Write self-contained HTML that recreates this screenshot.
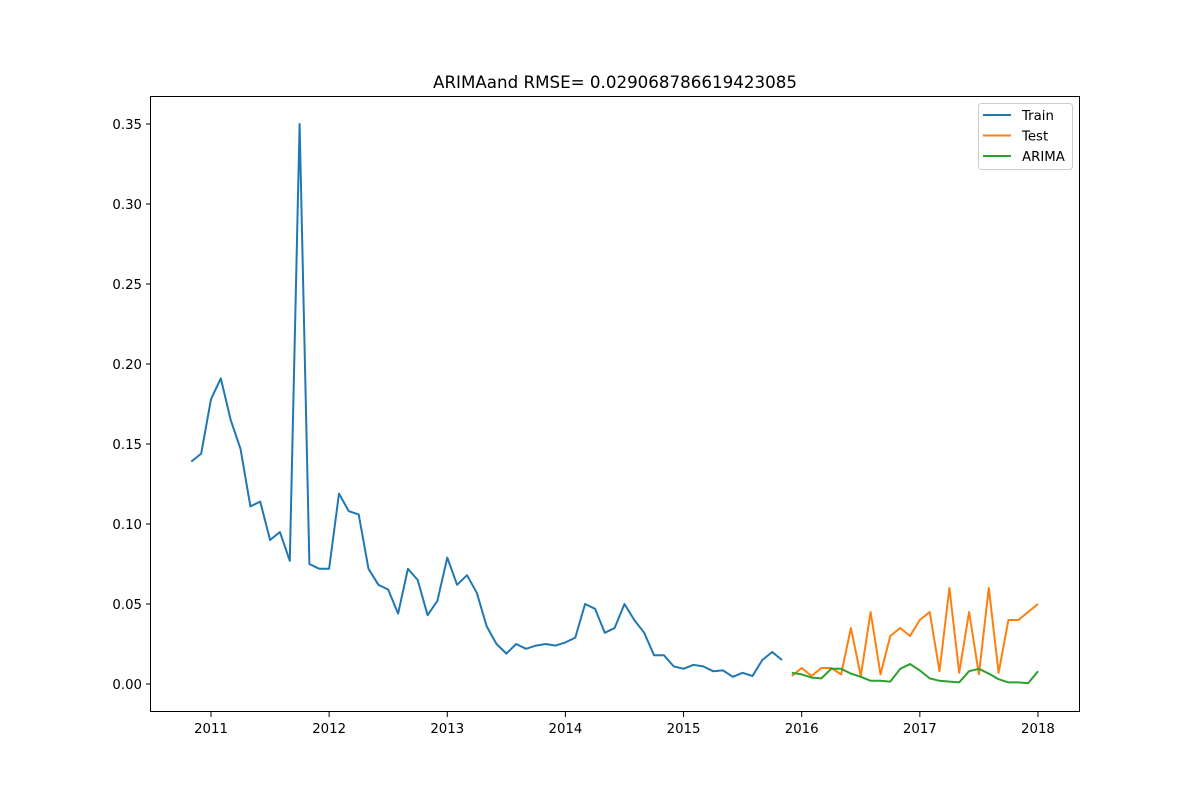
<!DOCTYPE html>
<html><head><meta charset="utf-8"><style>
body{margin:0;background:#fff;}
svg text{font-family:"DejaVu Sans","Liberation Sans",sans-serif;}
</style></head><body>
<svg id="chart" width="1200" height="800" xmlns="http://www.w3.org/2000/svg"></svg>
<script>
const trainValues=[0.139,0.144,0.178,0.191,0.165,0.147,0.111,0.114,0.090,0.095,0.077,0.350,0.075,0.072,0.072,0.119,0.108,0.106,0.072,0.062,0.059,0.044,0.072,0.065,0.043,0.052,0.079,0.062,0.068,0.057,0.036,0.025,0.019,0.025,0.022,0.024,0.025,0.024,0.026,0.029,0.050,0.047,0.032,0.035,0.050,0.040,0.032,0.018,0.018,0.011,0.0095,0.012,0.011,0.008,0.0085,0.0045,0.007,0.005,0.015,0.020,0.015];
const trainStart=2010+10/12;
const testValues=[0.005,0.010,0.005,0.010,0.010,0.006,0.035,0.005,0.045,0.006,0.030,0.035,0.030,0.040,0.045,0.008,0.060,0.007,0.045,0.006,0.060,0.007,0.040,0.040,0.045,0.050];
const arimaValues=[0.007,0.006,0.004,0.0035,0.0095,0.0095,0.0065,0.0045,0.002,0.002,0.0015,0.0095,0.0125,0.0085,0.0035,0.002,0.0015,0.001,0.008,0.0095,0.0065,0.003,0.001,0.001,0.0005,0.008];
const testStart=2015+11/12;
const xTicks=[2011,2012,2013,2014,2015,2016,2017,2018];
const yTicks=[0,0.05,0.10,0.15,0.20,0.25,0.30,0.35];

const NS="http://www.w3.org/2000/svg";
const svg=document.getElementById('chart');
const X=v=>211+(v-2011)*118.14;
const Y=v=>684-v*1600;
function mk(t,a,parent){const e=document.createElementNS(NS,t);for(const k in a)e.setAttribute(k,a[k]);(parent||svg).appendChild(e);return e;}

const title=mk('text',{x:615,y:88,'text-anchor':'middle','font-size':16.7,fill:'#000'});
title.textContent='ARIMAand RMSE= 0.029068786619423085';



xTicks.forEach(t=>{
  const x=X(t);
  const l=mk('line',{x1:x,x2:x,y1:712,y2:717,stroke:'#000','stroke-width':1});
  
  
  const tx=mk('text',{x:x,y:733,'text-anchor':'middle','font-size':13.3,fill:'#000'});
  tx.textContent=t;
  
  
});
yTicks.forEach(t=>{
  const y=Y(t);
  const l=mk('line',{x1:146,x2:151,y1:y,y2:y,stroke:'#000','stroke-width':1});
  
  
  const tx=mk('text',{x:142,y:y+5,'text-anchor':'end','font-size':13.3,fill:'#000'});
  tx.textContent=t.toFixed(2);
  
  
});

function series(vals,start,color,name){
  const pts=vals.map((v,i)=>X(start+i/12).toFixed(1)+','+Y(v).toFixed(1)).join(' ');
  const p=mk('polyline',{points:pts,fill:'none',stroke:color,'stroke-width':2,'stroke-linejoin':'round'});
  
  
}
series(trainValues,trainStart,'#1f77b4','train-line');
series(testValues,testStart,'#ff7f0e','test-line');
series(arimaValues,testStart,'#2ca02c','arima-line');

const frame=mk('rect',{x:150.5,y:96.5,width:929,height:615,fill:'none',stroke:'#000','stroke-width':1});



const lg=mk('g',{});


mk('rect',{x:978.5,y:103.5,width:94,height:66,rx:3,fill:'#fff',stroke:'#ccc','stroke-width':1},lg);
[['Train','#1f77b4'],['Test','#ff7f0e'],['ARIMA','#2ca02c']].forEach((e,i)=>{
  const y=115+i*20.5;
  const g=mk('g',{},lg);
  
  
  mk('line',{x1:983,x2:1011,y1:y,y2:y,stroke:e[1],'stroke-width':2},g);
  const t=mk('text',{x:1022,y:y+5,'font-size':13.3,fill:'#000'},g);
  t.textContent=e[0];
});
</script>
</body></html>
